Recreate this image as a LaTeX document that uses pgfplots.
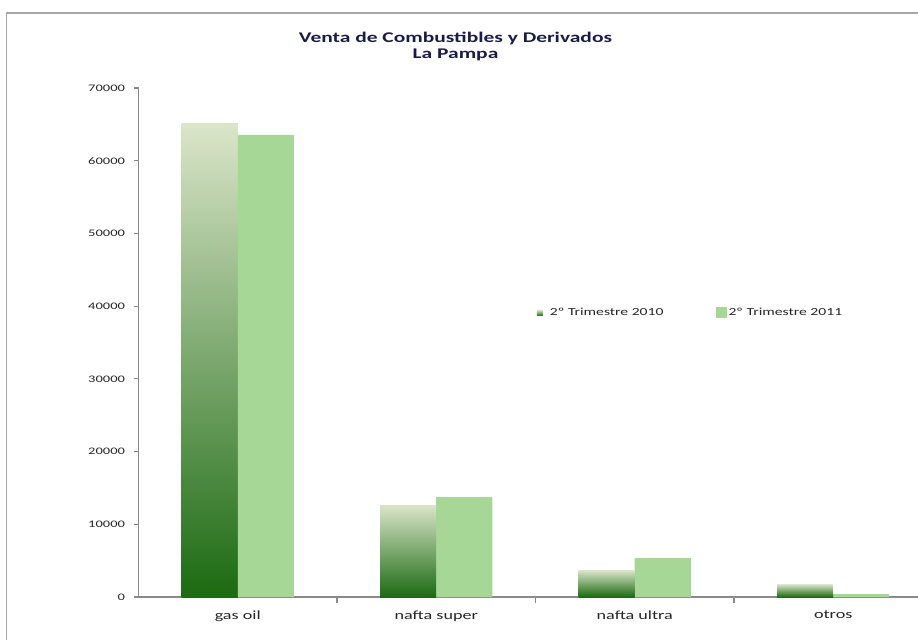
\documentclass[border=0pt]{standalone}
\usepackage{pgfplots}
\pgfplotsset{compat=1.18}
\usepackage{fontspec}
\setmainfont{Carlito}
\usepackage{graphicx}
\newcommand{\sx}[1]{\scalebox{1.45}[1]{#1}}
\definecolor{gtop}{HTML}{DAE5C9}
\definecolor{gmid}{HTML}{A9B163}
\definecolor{gbot}{HTML}{1C6A12}
\definecolor{lg}{HTML}{A6D797}
\definecolor{axgray}{HTML}{8A8A8A}
\definecolor{titlec}{RGB}{26,28,72}
\begin{document}
\begin{tikzpicture}[x=1pt,y=1pt]
\path[use as bounding box] (0,0) rectangle (918,640);
\draw[color=gray!70, line width=1.6pt] (6.5,0) -- (6.5,627) -- (918,627);
\begin{axis}[
  scale only axis,
  width=779.5pt, height=509pt,
  at={(138.5pt,43pt)}, anchor=south west,
  ymin=0, ymax=70000,
  xmin=-0.5, xmax=3.427,
  axis lines=left,
  axis line style={-, draw=axgray, line width=1.4pt},
  ybar=0pt, bar width=56pt,
  scaled y ticks=false,
  ytick={0,10000,...,70000},
  xtick={0,1,2,3},
  xticklabels={\sx{gas oil},\sx{nafta super},\sx{nafta ultra},\sx{otros}},
  minor xtick={0.5,1.5,2.5},
  major x tick style={draw=none},
  minor x tick style={draw=axgray, line width=1.1pt},
  y tick style={draw=axgray, line width=1.1pt},
  tick align=outside,
  major tick length=5pt, minor tick length=6pt,
  tick pos=left,
  /pgf/number format/assume math mode=true,
  /pgf/number format/1000 sep={},
  yticklabel={\sx{\pgfmathprintnumber{\tick}}},
  yticklabel style={font=\fontsize{10}{12}\selectfont, text=black!85, xshift=-5pt},
  xticklabel style={font=\fontsize{12.5}{14}\selectfont, text=black!85, yshift=-5pt},
  legend style={draw=none, fill=none, at={(rel axis cs:0.507,0.558)}, anchor=west,
    font=\fontsize{10.8}{12}\selectfont, text=black!85,
    /tikz/every even column/.append style={column sep=50pt}},
  legend columns=2,
  legend cell align=left,
]
% 2º Trimestre 2010 (one plot per bar so each bar gets its own gradient)
\addplot[draw=none, bar shift=-28pt, bottom color=gbot, middle color=gmid, top color=gtop,
  legend image code/.code={\fill[gbot!80!gmid] (-4pt,-3pt) rectangle (2pt,3pt);}]
  coordinates {(0,65050)};
\addplot[draw=none, bar shift=28pt, fill=lg,
  legend image code/.code={\fill[lg] (-4pt,-5.5pt) rectangle (7pt,5.5pt);}]
  coordinates {(0,63550) (1,13750) (2,5350) (3,400)};
\addplot[forget plot, draw=none, bar shift=-28pt, bottom color=gbot, middle color=gmid, top color=gtop]
  coordinates {(1,12650)};
\addplot[forget plot, draw=none, bar shift=-28pt, bottom color=gbot, middle color=gmid, top color=gtop]
  coordinates {(2,3700)};
\addplot[forget plot, draw=none, bar shift=-28pt, bottom color=gbot, middle color=gmid, top color=gtop]
  coordinates {(3,1750)};
\legend{\hspace{5pt}\sx{2º Trimestre 2010},\sx{2º Trimestre 2011}}
\end{axis}
\node[font=\bfseries\fontsize{14.8}{17}\selectfont, text=titlec, align=center] at (455.5,594) {\sx{Venta de Combustibles y Derivados}\\[-1pt]\sx{La Pampa}};
\end{tikzpicture}
\end{document}
